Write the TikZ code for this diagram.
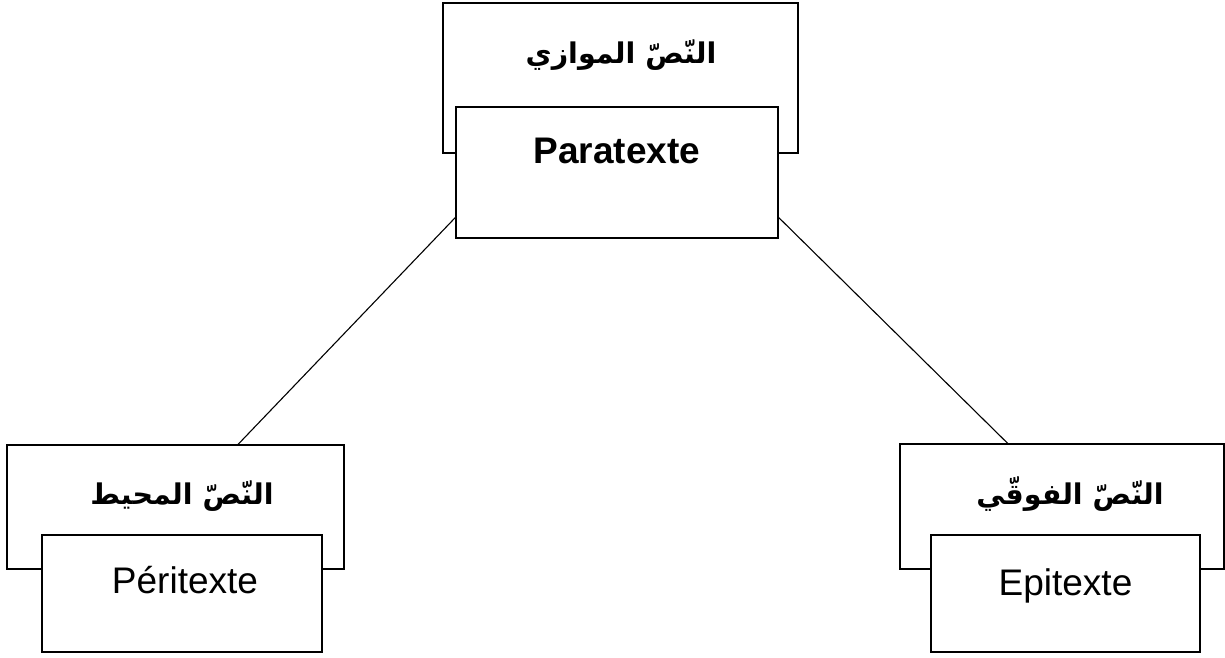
\documentclass[tikz,border=0pt]{standalone}
\usepackage{fontspec}
\setmainfont{Liberation Sans}
\newfontfamily\arabicfont[Script=Arabic]{DejaVu Sans}
\TeXXeTstate=1
\usetikzlibrary{calc}
\tikzset{
  box/.style={draw=black, line width=1.3pt, fill=white, inner sep=0pt},
  link/.style={draw=black, line width=1.1pt},
  lat/.style={anchor=base, inner sep=0pt, font=\fontsize{37}{40}\selectfont},
  latb/.style={lat, font=\fontsize{37}{40}\selectfont\bfseries},
  arab/.style={anchor=base, inner sep=0pt, font=\fontsize{28.5}{31}\selectfont\arabicfont\bfseries}
}
\begin{document}
\begin{tikzpicture}[x=1pt,y=-1pt]
\useasboundingbox (0,0) rectangle (1225,657);
% top
\node[box, minimum width=355pt, minimum height=150pt] (pout) at (620.5,78) {};
\node[box, minimum width=322pt, minimum height=131pt] (pin) at (617,172.5) {};
\node[arab] (pa) at (621,63) {\beginR النّصّ الموازي\endR};
\node[latb] (pl) at (617,163) {Paratexte};
% left
\node[box, minimum width=337pt, minimum height=124pt] (lout) at (175.5,507) {};
\node[box, minimum width=280pt, minimum height=117pt] (lin) at (182,593.5) {};
\node[arab] (la) at (182,504) {\beginR النّصّ المحيط\endR};
\node[lat] (ll) at (185,593) {Péritexte};
% right
\node[box, minimum width=324pt, minimum height=125pt] (rout) at (1062,506.5) {};
\node[box, minimum width=269pt, minimum height=117pt] (rin) at (1065.5,593.5) {};
\node[arab] (ra) at (1070,504) {\beginR النّصّ الفوقّي\endR};
\node[lat] (rl) at (1065.5,595) {Epitexte};
% connectors
\draw[link] ($(pin.north west)!0.84!(pin.south west)$) -- ($(lout.north west)!0.685!(lout.north east)$);
\draw[link] ($(pin.north east)!0.84!(pin.south east)$) -- ($(rout.north west)!0.333!(rout.north east)$);
\end{tikzpicture}
\end{document}
